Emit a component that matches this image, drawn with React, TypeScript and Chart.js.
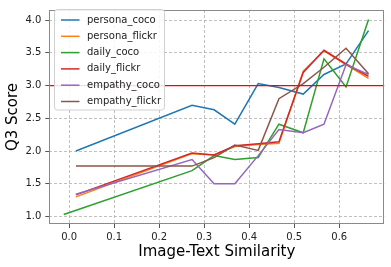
import React, { useEffect, useRef } from "react";
import { Chart, registerables } from "chart.js";

Chart.register(...registerables);

// ---- data ----
const SIM = [0.015, 0.273, 0.322, 0.368, 0.42, 0.466, 0.52, 0.566, 0.615, 0.665];
const SIM_DAILY_COCO = [-0.012, 0.273, 0.322, 0.368, 0.42, 0.466, 0.52, 0.566, 0.615, 0.665];

const PERSONA_COCO = [2.0, 2.7, 2.63, 2.41, 3.03, 2.97, 2.87, 3.17, 3.33, 3.84];
const PERSONA_FLICKR = [1.3, 1.96, 1.94, 2.07, 2.1, 2.12, 3.22, 3.53, 3.32, 3.11];
const DAILY_COCO = [1.03, 1.7, 1.93, 1.87, 1.9, 2.41, 2.28, 3.41, 2.98, 4.01];
const DAILY_FLICKR = [1.33, 1.97, 1.94, 2.08, 2.11, 2.14, 3.2, 3.54, 3.33, 3.14];
const EMPATHY_COCO = [1.34, 1.87, 1.5, 1.5, 1.93, 2.33, 2.28, 2.41, 3.32, 3.17];
const EMPATHY_FLICKR = [1.77, 1.77, 1.9, 2.09, 2.01, 2.8, 3.03, 3.28, 3.57, 3.18];

const SERIES_NAMES = ["persona_coco", "persona_flickr", "daily_coco", "daily_flickr", "empathy_coco", "empathy_flickr"];
const SERIES_VALUES = [PERSONA_COCO, PERSONA_FLICKR, DAILY_COCO, DAILY_FLICKR, EMPATHY_COCO, EMPATHY_FLICKR];
const SERIES_X = [SIM, SIM, SIM_DAILY_COCO, SIM, SIM, SIM];
const COLORS = ["#1f77b4", "#ff7f0e", "#2ca02c", "#d62728", "#9467bd", "#8c564b"];

const X_TICKS = [0.0, 0.1, 0.2, 0.3, 0.4, 0.5, 0.6];
const Y_TICKS = [1.0, 1.5, 2.0, 2.5, 3.0, 3.5, 4.0];
const THRESHOLD = 3.0;

const FONT = "'DejaVu Sans', sans-serif";

const overlayPlugin = {
  id: "overlay",
  afterDatasetsDraw(chart: any) {
    const { ctx, chartArea, scales } = chart;
    const y = scales.y.getPixelForValue(THRESHOLD);
    ctx.save();
    ctx.beginPath();
    ctx.rect(chartArea.left, chartArea.top, chartArea.right - chartArea.left, chartArea.bottom - chartArea.top);
    ctx.clip();
    ctx.strokeStyle = "#ff0000";
    ctx.lineWidth = 1.2;
    ctx.beginPath();
    ctx.moveTo(chartArea.left, y);
    ctx.lineTo(chartArea.right, y);
    ctx.stroke();
    ctx.restore();
  },
  afterDraw(chart: any) {
    const { ctx, chartArea } = chart;
    ctx.save();
    // frame
    ctx.strokeStyle = "#8a8a8a";
    ctx.lineWidth = 1;
    ctx.strokeRect(
      Math.round(chartArea.left) + 0.5,
      Math.round(chartArea.top) + 0.5,
      Math.round(chartArea.right - chartArea.left) - 1,
      Math.round(chartArea.bottom - chartArea.top) - 1
    );
    // legend
    const bx = 54.5, by = 9.5, bw = 110, bh = 100.5;
    ctx.beginPath();
    (ctx as any).roundRect(bx, by, bw, bh, 3);
    ctx.fillStyle = "rgba(255,255,255,0.85)";
    ctx.fill();
    ctx.strokeStyle = "#d0d0d0";
    ctx.lineWidth = 1;
    ctx.stroke();
    ctx.font = `10px ${FONT}`;
    ctx.textBaseline = "middle";
    ctx.textAlign = "left";
    SERIES_NAMES.forEach((name, i) => {
      const yy = 20 + i * 16.3;
      ctx.strokeStyle = COLORS[i];
      ctx.lineWidth = 1.5;
      ctx.beginPath();
      ctx.moveTo(61, yy);
      ctx.lineTo(79.5, yy);
      ctx.stroke();
      ctx.fillStyle = "#222";
      ctx.fillText(name, 87, yy);
    });
    ctx.restore();
  },
};

export default function App() {
  const ref = useRef<HTMLCanvasElement>(null);
  useEffect(() => {
    if (!ref.current) return;
    const datasets = SERIES_NAMES.map((name, i) => ({
      label: name,
      data: SERIES_VALUES[i].map((v, j) => ({ x: SERIES_X[i][j], y: v })),
      borderColor: COLORS[i],
      backgroundColor: COLORS[i],
      borderWidth: 1.5,
      pointRadius: 0,
      tension: 0,
      fill: false,
      order: SERIES_NAMES.length - i,
    }));
    const gridCommon = {
      color: "#b0b0b0",
      lineWidth: 0.8,
      borderDash: [3, 2],
      drawTicks: true,
      tickLength: 4,
      tickColor: "#555",
      tickWidth: 1,
      tickBorderDash: [],
    };
    const borderCommon = { display: false, dash: [3, 2], dashOffset: 0 };
    const chart = new Chart(ref.current, {
      type: "line",
      data: { datasets },
      plugins: [overlayPlugin],
      options: {
        animation: false,
        responsive: false,
        devicePixelRatio: 1,
        layout: { padding: { top: 6, right: 6.7, left: 0, bottom: 0 } },
        plugins: { legend: { display: false }, tooltip: { enabled: false } },
        scales: {
          x: {
            type: "linear",
            min: -0.044,
            max: 0.7,
            afterBuildTicks: (s: any) => {
              s.ticks = X_TICKS.map((v) => ({ value: v }));
            },
            afterFit: (s: any) => {
              s.height = 43;
            },
            ticks: {
              callback: (v: any) => Number(v).toFixed(1),
              font: { size: 10, family: FONT },
              color: "#222",
              padding: 3,
              maxRotation: 0,
            },
            grid: gridCommon as any,
            border: borderCommon as any,
            title: {
              display: true,
              text: "Image-Text Similarity",
              font: { size: 15, family: FONT },
              color: "#000",
              padding: { top: 0, bottom: 6.3 },
            },
          },
          y: {
            type: "linear",
            min: 0.885,
            max: 4.155,
            afterBuildTicks: (s: any) => {
              s.ticks = Y_TICKS.map((v) => ({ value: v }));
            },
            afterFit: (s: any) => {
              s.width = 49.3;
            },
            ticks: {
              callback: (v: any) => Number(v).toFixed(1),
              font: { size: 10, family: FONT },
              color: "#222",
              padding: 4,
            },
            grid: gridCommon as any,
            border: borderCommon as any,
            title: {
              display: true,
              text: "Q3 Score",
              font: { size: 15, family: FONT },
              color: "#000",
              padding: { top: 3.7, bottom: 0 },
            },
          },
        },
      } as any,
    });
    return () => chart.destroy();
  }, []);
  return (
    <div style={{ position: "fixed", left: 0, top: 0, width: 391, height: 267, background: "#fff" }}>
      <canvas ref={ref} width={391} height={267} style={{ display: "block" }} />
    </div>
  );
}
